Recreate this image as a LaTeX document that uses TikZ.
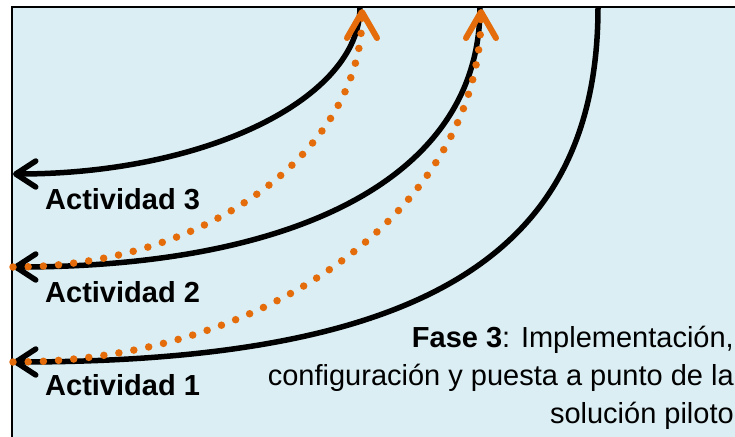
\documentclass[tikz,border=0pt]{standalone}
\usepackage{fontspec}
\setmainfont{Liberation Sans}
\usepackage{tikz}
\usetikzlibrary{arrows.meta,positioning,calc}
\definecolor{phasebg}{RGB}{218,238,243}
\definecolor{accentorange}{RGB}{228,108,10}

\begin{document}
\begin{tikzpicture}[x=1pt, y=-1pt, font=\fontsize{29}{38}\selectfont,
    activity/.style={line width=5.5pt, -{Straight Barb[length=20pt, width=26pt, line width=5.5pt, round]}},
    feedback/.style={accentorange, line width=7.5pt, line cap=round, dash pattern=on 0pt off 15.2pt,
      -{Straight Barb[length=26pt, width=30pt, line width=6pt, round]}},
    actlabel/.style={anchor=base west, inner sep=0pt, font=\fontsize{29}{34}\selectfont\bfseries}]
  \useasboundingbox (0,0) rectangle (735,436);
  \clip (0,0) rectangle (735,436);

  % Phase frame
  \draw[line width=2.5pt, fill=phasebg] (12,7) rectangle (760,460);

  % End points of the arrows
  \coordinate (top3) at (360,7);
  \coordinate (top2) at (480,7);
  \coordinate (top1) at (598,7);
  \coordinate (left3) at (13,174);
  \coordinate (left2) at (13,267);
  \coordinate (left1) at (13,362);
  \coordinate (ret3) at (362,9);
  \coordinate (ret2) at (481,9);

  % Activities
  \draw[activity] (top3) to[out=-90, in=0, out distance=92pt, in distance=192pt] (left3);
  \draw[activity] (top2) to[out=-90, in=0, out distance=172pt, in distance=280pt] (left2);
  \draw[activity] (top1) to[out=-90, in=0, out distance=241pt, in distance=421pt] (left1);

  % Feedback (dotted)
  \draw[feedback] (left2) to[out=0, in=-90, out distance=193pt, in distance=142pt] (ret3);
  \draw[feedback] (left1) to[out=0, in=-90, out distance=258pt, in distance=195pt] (ret2);

  \node[actlabel] (act3) at (45,209) {Actividad 3};
  \node[actlabel] (act2) at (45,302) {Actividad 2};
  \node[actlabel] (act1) at (45,395) {Actividad 1};

  \node[anchor=base east, align=right, inner sep=0pt] (fase) at (734,423)
    {\textbf{Fase 3}: Implementación,\\configuración y puesta a punto de la\\solución piloto};
\end{tikzpicture}
\end{document}
